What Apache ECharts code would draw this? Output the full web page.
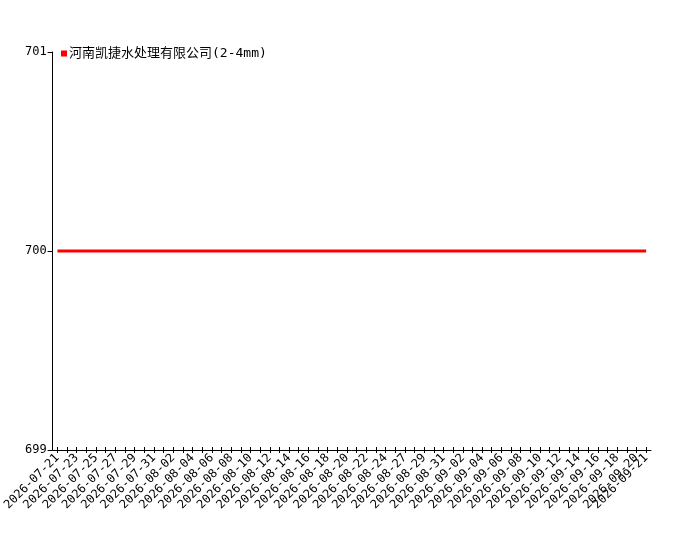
<!DOCTYPE html>
<html>
<head>
<meta charset="utf-8">
<script src="https://cdn.jsdelivr.net/npm/echarts@6/dist/echarts.min.js"></script>
<style>html,body{margin:0;padding:0;background:#fff}#c{width:700px;height:550px}</style>
</head>
<body>
<div id="c"></div>
<script>
var seriesName = '河南凯捷水处理有限公司(2-4mm)';
var categories = [
  '2026-07-21','2026-07-22','2026-07-23','2026-07-24','2026-07-25','2026-07-26','2026-07-27','2026-07-28','2026-07-29','2026-07-30','2026-07-31',
  '2026-08-01','2026-08-02','2026-08-03','2026-08-04','2026-08-05','2026-08-06','2026-08-07','2026-08-08','2026-08-09','2026-08-10',
  '2026-08-11','2026-08-12','2026-08-13','2026-08-14','2026-08-15','2026-08-16','2026-08-17','2026-08-18','2026-08-19','2026-08-20',
  '2026-08-21','2026-08-22','2026-08-23','2026-08-24','2026-08-25','2026-08-27','2026-08-28','2026-08-29','2026-08-30','2026-08-31',
  '2026-09-01','2026-09-02','2026-09-03','2026-09-04','2026-09-05','2026-09-06','2026-09-07','2026-09-08','2026-09-09','2026-09-10',
  '2026-09-11','2026-09-12','2026-09-13','2026-09-14','2026-09-15','2026-09-16','2026-09-17','2026-09-18','2026-09-19','2026-09-20',
  '2026-09-21'
];
var values = [
  700,700,700,700,700,700,700,700,700,700,700,
  700,700,700,700,700,700,700,700,700,700,
  700,700,700,700,700,700,700,700,700,700,
  700,700,700,700,700,700,700,700,700,700,
  700,700,700,700,700,700,700,700,700,700,
  700,700,700,700,700,700,700,700,700,700,
  700
];
var yMin = 699, yMax = 701, yInterval = 1;

var lastIdx = categories.length - 1;
function showLabel(idx) { return idx % 2 === 0 || idx === lastIdx; }

var chart = echarts.init(document.getElementById('c'));
var mono = "'DejaVu Sans Mono', 'Noto Sans CJK SC', monospace";
chart.setOption({
  animation: false,
  backgroundColor: '#fff',
  textStyle: {fontFamily: mono},
  legend: {
    left: 56, top: 42,
    itemWidth: 6, itemHeight: 6, itemGap: 10,
    icon: 'rect',
    textStyle: {fontSize: 13, color: '#000', fontFamily: mono, padding: [0, 0, 0, -3]},
    data: [seriesName]
  },
  grid: {left: 50, right: 49, top: 52, bottom: 100, containLabel: false},
  xAxis: [{
    type: 'category',
    position: 'bottom',
    data: categories,
    boundaryGap: true,
    axisLine: {lineStyle: {color: '#000', width: 1}},
    axisTick: {show: true, alignWithLabel: true, interval: 0, length: 3, lineStyle: {color: '#000'}},
    axisLabel: {
      interval: 0,
      formatter: function (v, idx) { return showLabel(idx) ? v : ''; },
      rotate: 45, fontSize: 12, color: '#000', margin: 6, hideOverlap: false, fontFamily: mono
    },
    splitLine: {show: false}
  }, {
    type: 'category',
    position: 'bottom',
    offset: 0,
    data: categories,
    boundaryGap: true,
    axisLine: {show: false},
    axisTick: {show: true, inside: true, alignWithLabel: true, interval: 0, length: 3, lineStyle: {color: '#000'}},
    axisLabel: {show: false},
    splitLine: {show: false}
  }],
  yAxis: {
    type: 'value',
    position: 'left',
    min: yMin, max: yMax, interval: yInterval,
    axisLine: {show: true, lineStyle: {color: '#000', width: 1}},
    axisTick: {show: true, length: 5, lineStyle: {color: '#000'}},
    axisLabel: {fontSize: 12, color: '#000', margin: 6, fontFamily: mono},
    splitLine: {show: false}
  },
  series: [{
    name: seriesName,
    type: 'line',
    xAxisIndex: 0,
    data: values,
    showSymbol: false,
    symbol: 'none',
    itemStyle: {color: '#ff0000'},
    lineStyle: {color: '#ff0000', width: 3}
  }]
});
</script>
</body>
</html>
